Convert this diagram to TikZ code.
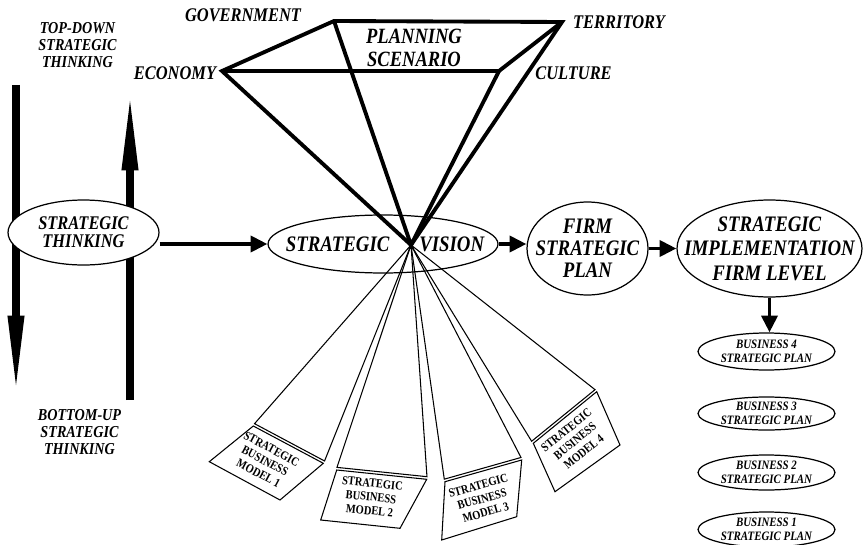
\documentclass[tikz,border=0pt]{standalone}
\usepackage{fontspec}
\setmainfont{Liberation Serif}[FakeStretch=0.85]
\usepackage{tikz}
\usetikzlibrary{arrows.meta,shapes.geometric,calc}

\begin{document}
\begin{tikzpicture}[x=0.02cm, y=-0.02cm,
	oval/.style={draw, ellipse, line width=0.7pt, inner sep=0pt},
	bigtext/.style={font=\bfseries\itshape\fontsize{12.6}{13.4}\selectfont, align=center, inner sep=0pt},
	cornertext/.style={font=\bfseries\itshape\fontsize{11}{12}\selectfont, inner sep=0pt},
	sidetext/.style={font=\bfseries\itshape\fontsize{9.5}{9.6}\selectfont, align=center, inner sep=0pt},
	plan/.style={oval, minimum width=2.74cm, minimum height=0.7cm},
	plantext/.style={font=\bfseries\itshape\fontsize{7.3}{7.9}\selectfont, align=center, inner sep=0pt},
	modeltext/.style={font=\bfseries\fontsize{7}{7.9}\selectfont, align=center, inner sep=0pt},
	pyr/.style={line width=2.2pt},
	fan/.style={line width=0.6pt},
	flow/.style={line width=2.2pt, -{Triangle[length=9.5pt,width=9pt]}},
	updown/.style={line width=4pt, -{Triangle[length=44pt,width=8.5pt]}}]
	\useasboundingbox (0,0) rectangle (868,544);

	% top-down / bottom-up arrows, behind the thinking oval
	\coordinate (downtop) at (16,85);
	\coordinate (downend) at (16,393);
	\coordinate (upbot) at (130,400);
	\coordinate (uptop) at (130,93);
	\draw[updown] (downtop) -- (downend);
	\draw[updown] (upbot) -- (uptop);
	\node[sidetext] (topdown) at (77.5,45) {TOP-DOWN\\STRATEGIC\\THINKING};
	\node[sidetext] (bottomup) at (79.5,432) {BOTTOM-UP\\STRATEGIC\\THINKING};

	\node[oval, fill=white, minimum width=3.02cm, minimum height=1.3cm] (thinking) at (83.5,232.5) {};
	\node[bigtext, font=\bfseries\itshape\fontsize{11}{10.4}\selectfont] (thinkingtext) at (thinking) {STRATEGIC\\THINKING};

	% main row
	\node[oval, minimum width=4.6cm, minimum height=1.16cm] (vision) at (383,244) {};
	\node[bigtext] (visiontext) at (385,244) {STRATEGIC\hspace{17pt}VISION};
	\node[oval, minimum width=2.42cm, minimum height=1.86cm] (firm) at (587.5,248.5) {};
	\node[bigtext, font=\bfseries\itshape\fontsize{12.6}{12.6}\selectfont] (firmtext) at (firm) {FIRM\\STRATEGIC\\PLAN};
	\node[oval, minimum width=3.7cm, minimum height=1.94cm] (impl) at (769.5,248.5) {};
	\node[bigtext, font=\bfseries\itshape\fontsize{12.6}{14}\selectfont] (impltext) at (impl) {STRATEGIC\\IMPLEMENTATION\\FIRM LEVEL};
	\coordinate (apex) at (411,245);

	\draw[flow] (thinking.east |- vision) -- (vision.west);
	\draw[flow] (vision.east) -- (vision.east -| firm.west);
	\draw[flow] (firm.east) -- (firm.east -| impl.west);

	% business plans
	\node[plan, minimum height=0.74cm] (b4) at (766.5,351.5) {};
	\node[plan, minimum height=0.66cm] (b3) at (766.5,413.5) {};
	\node[plan] (b2) at (766.5,472.5) {};
	\node[plan] (b1) at (766.5,529.5) {};
	\node[plantext] (b4text) at (b4) {BUSINESS 4\\STRATEGIC PLAN};
	\node[plantext] (b3text) at (b3) {BUSINESS 3\\STRATEGIC PLAN};
	\node[plantext] (b2text) at (b2) {BUSINESS 2\\STRATEGIC PLAN};
	\node[plantext] (b1text) at (b1) {BUSINESS 1\\STRATEGIC PLAN};
	\draw[flow] (impl.south) -- (impl.south |- b4.north);

	% planning scenario pyramid
	\coordinate (economy) at (222,71);
	\coordinate (government) at (334,21);
	\coordinate (territory) at (562,22);
	\coordinate (culture) at (499,71);
	\draw[pyr] (apex) -- (economy) -- (government) -- (territory) -- (apex);
	\draw[pyr] (economy) -- (culture) -- (territory);
	\draw[pyr] (government) -- (apex) (culture) -- (apex);
	\node[cornertext] (govtext) at (243,15) {GOVERNMENT};
	\node[cornertext] (tertext) at (619,22.5) {TERRITORY};
	\node[cornertext] (cultext) at (573.5,73) {CULTURE};
	\node[cornertext] (ecotext) at (175,73) {ECONOMY};
	\node[bigtext, font=\bfseries\itshape\fontsize{12.4}{13.3}\selectfont] (scenario) at (414,48) {PLANNING\\SCENARIO};

	% strategic business models
	\coordinate (m1-a) at (253.3,426);
	\coordinate (m1-b) at (323.3,463.3);
	\coordinate (m1-c) at (280,500);
	\coordinate (m1-d) at (209.3,461.7);
	\coordinate (m2-a) at (336.7,470);
	\coordinate (m2-b) at (426.7,479.3);
	\coordinate (m2-c) at (400,528.3);
	\coordinate (m2-d) at (320.7,520);
	\coordinate (m3-a) at (445,481.7);
	\coordinate (m3-b) at (521.7,460);
	\coordinate (m3-c) at (516.7,516.7);
	\coordinate (m3-d) at (441.7,540);
	\coordinate (m4-a) at (533.3,443.3);
	\coordinate (m4-b) at (596.7,391.7);
	\coordinate (m4-c) at (620,445);
	\coordinate (m4-d) at (555,491.7);
	\foreach \i in {1,...,4} {
		\draw[fan] (apex) -- ($(m\i-a)!1.5pt!90:(m\i-b)$) -- ($(m\i-b)!1.5pt!-90:(m\i-a)$) -- cycle;
		\draw[fan] (m\i-a) -- (m\i-b) -- (m\i-c) -- (m\i-d) -- cycle;
	}
	\node[modeltext, rotate=-28] (model1) at (265,461) {STRATEGIC\\BUSINESS\\MODEL 1};
	\node[modeltext, rotate=-6] (model2) at (371,497) {STRATEGIC\\BUSINESS\\MODEL 2};
	\node[modeltext, rotate=16] (model3) at (482,499) {STRATEGIC\\BUSINESS\\MODEL 3};
	\node[modeltext, rotate=39] (model4) at (575,441) {STRATEGIC\\BUSINESS\\MODEL 4};
\end{tikzpicture}
\end{document}
